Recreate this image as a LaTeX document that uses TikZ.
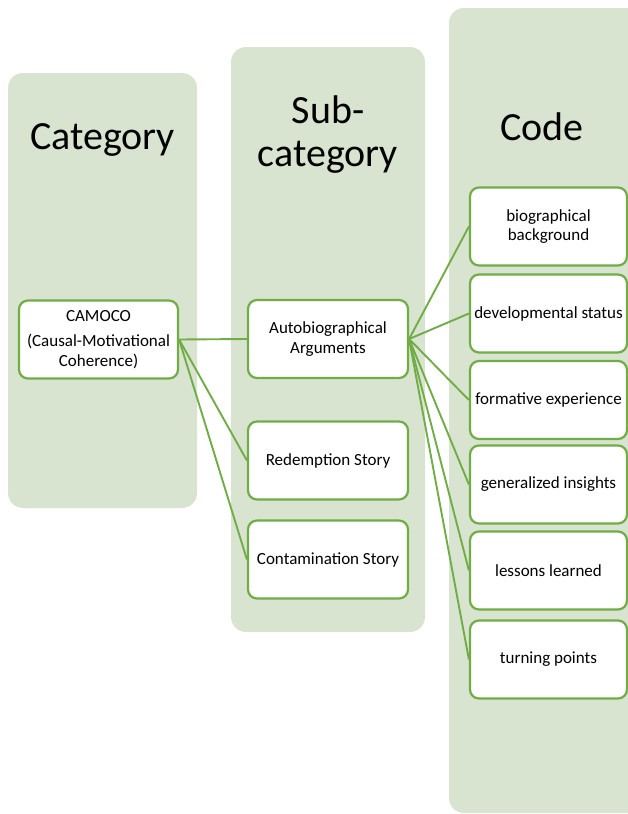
\documentclass[tikz,border=0pt]{standalone}
\usepackage{fontspec}
\setmainfont{Carlito}
\definecolor{colfill}{RGB}{216,228,208}
\definecolor{linegreen}{RGB}{112,173,71}

\begin{document}
\begin{tikzpicture}[x=1pt,y=-1pt]
		\tikzstyle{column} = [fill=colfill, rounded corners=15pt, inner sep=0pt]
		\tikzstyle{title} = [font=\fontsize{40}{43}\selectfont, align=center, inner sep=0pt]
		\tikzstyle{block} = [draw=linegreen, line width=2.2pt, fill=white, rounded corners=9pt, minimum height=78pt, font=\fontsize{17}{19.5}\selectfont, align=center, inner sep=2pt]
		\tikzstyle{link} = [draw=linegreen, line width=1.9pt]
		\useasboundingbox (0,0) rectangle (628,814);

		% background columns
		\node [column, minimum width=189pt, minimum height=435pt] (catcol) at (102.5,290.5) {};
		\node [column, minimum width=194pt, minimum height=585pt] (subcol) at (328,339.5) {};
		\node [column, minimum width=194pt, minimum height=805pt] (codecol) at (546,410.5) {};

		\node [title, anchor=base] (cattitle) at (102.5,149) {Category};
		\node [title] (subtitle) at (328,134.5) {Sub-\\category};
		\node [title, anchor=base] (codetitle) at (542,140) {Code};

		% category and sub-categories
		\node [block, minimum width=159pt] (camoco) at (98.5,339.5) {CAMOCO\\[6pt](Causal-Motivational\\Coherence)};
		\node [block, minimum width=160pt] (autobio) at (328,339) {Autobiographical\\Arguments};
		\node [block, minimum width=160pt] (redemp) at (328,460.5) {Redemption Story};
		\node [block, minimum width=160pt] (contam) at (328,559.5) {Contamination Story};

		% codes
		\node [block, minimum width=157pt] (biogr) at (548.5,226.5) {biographical\\background};
		\node [block, minimum width=157pt] (devel) at (548.5,313.5) {developmental status};
		\node [block, minimum width=157pt] (format) at (548.5,400) {formative experience};
		\node [block, minimum width=157pt] (general) at (548.5,484.5) {generalized insights};
		\node [block, minimum width=157pt] (lessons) at (548.5,570.5) {lessons learned};
		\node [block, minimum width=157pt] (turning) at (548.5,659.5) {turning points};

		\draw[link] (camoco.east) -- (autobio.west);
		\draw[link] (camoco.east) -- (redemp.west);
		\draw[link] (camoco.east) -- (contam.west);
		\foreach \code in {biogr,devel,format,general,lessons,turning}
			\draw[link] (autobio.east) -- (\code.west);
	\end{tikzpicture}
\end{document}
